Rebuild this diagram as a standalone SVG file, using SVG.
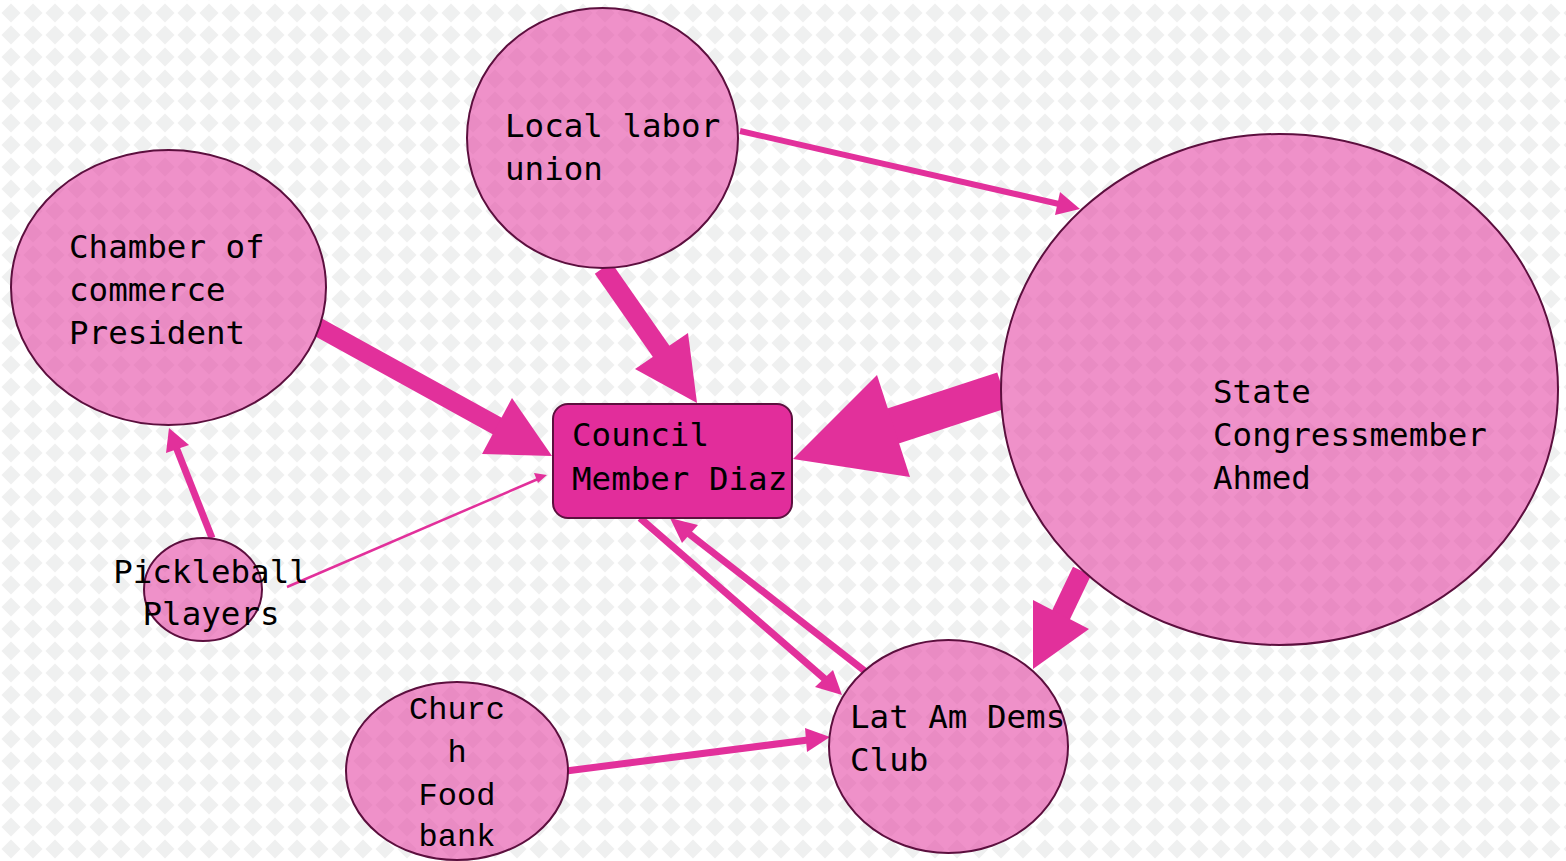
<svg xmlns="http://www.w3.org/2000/svg" width="1566" height="861" viewBox="0 0 1566 861">
<style>
.node{fill:url(#pinkPat);stroke:#5c0f3e;stroke-width:2}
.box{fill:#e22d9b;stroke:#5c0f3e;stroke-width:2}
.lbl{font-family:"DejaVu Sans Mono",monospace;font-size:32.5px;fill:#000}
.lbl2{font-family:"Liberation Mono","DejaVu Sans Mono",monospace;font-size:32px;fill:#000}
.sh{stroke:#e2309b;fill:none;stroke-linecap:butt}
.hd{fill:#e2309b;stroke:none}
</style>
<defs>
<pattern id="bgPat" patternUnits="userSpaceOnUse" x="0" y="2" width="22" height="22">
<rect width="22" height="22" fill="#ffffff"/>
<polygon points="11,1.5 20.5,11 11,20.5 1.5,11" fill="#eff0f0"/>
</pattern>
<pattern id="pinkPat" patternUnits="userSpaceOnUse" x="0" y="2" width="22" height="22">
<rect width="22" height="22" fill="#ef91c9"/>
<polygon points="11,1.5 20.5,11 11,20.5 1.5,11" fill="#e98bc3"/>
</pattern>
</defs>
<rect width="1566" height="861" fill="url(#bgPat)"/>
<g id="connectors">
<line class="sh" x1="740" y1="131" x2="1059" y2="204" stroke-width="6"/>
<polygon class="hd" points="1080,209 1060,192 1055,215"/>
<line class="sh" x1="603" y1="268" x2="663" y2="354" stroke-width="20"/>
<polygon class="hd" points="697,403 635,369 688,333"/>
<line class="sh" x1="316" y1="326" x2="499" y2="427" stroke-width="19"/>
<polygon class="hd" points="552,456 482,454 512,398"/>
<line class="sh" x1="1003" y1="390" x2="890" y2="427" stroke-width="37"/>
<polygon class="hd" points="793,459 877,375 910,477"/>
<line class="sh" x1="1082" y1="571" x2="1060" y2="617" stroke-width="20"/>
<polygon class="hd" points="1033,669 1033,600 1089,629"/>
<line class="sh" x1="640" y1="518" x2="826" y2="680" stroke-width="7"/>
<polygon class="hd" points="842,695 833,670 815,687"/>
<line class="sh" x1="866" y1="672" x2="688" y2="533" stroke-width="7"/>
<polygon class="hd" points="670,518 682,543 698,525"/>
<line class="sh" x1="566" y1="771" x2="808" y2="740" stroke-width="7"/>
<polygon class="hd" points="830,737 805,728 807,752"/>
<line class="sh" x1="212" y1="538" x2="176" y2="447" stroke-width="7"/>
<polygon class="hd" points="169,428 166,453 189,445"/>
<line class="sh" x1="287" y1="587" x2="538" y2="479" stroke-width="2.5"/>
<polygon class="hd" points="547,475 534,473 538,483"/>
</g>
<g id="local-labor-union">
<ellipse class="node" cx="602.5" cy="138" rx="135.5" ry="130"/>
<text class="lbl" x="505" y="137">Local labor</text>
<text class="lbl" x="505" y="180">union</text>
</g>
<g id="chamber-of-commerce">
<ellipse class="node" cx="168.5" cy="287.5" rx="157.5" ry="137.5"/>
<text class="lbl" x="69" y="258">Chamber of</text>
<text class="lbl" x="69" y="301">commerce</text>
<text class="lbl" x="69" y="344">President</text>
</g>
<g id="state-congressmember">
<ellipse class="node" cx="1279.5" cy="389.5" rx="278.5" ry="255.5"/>
<text class="lbl" x="1213" y="403">State</text>
<text class="lbl" x="1213" y="446">Congressmember</text>
<text class="lbl" x="1213" y="489">Ahmed</text>
</g>
<g id="council-member">
<rect class="box" x="553" y="404" width="239" height="114" rx="15"/>
<text class="lbl" x="572" y="446">Council</text>
<text class="lbl" x="572" y="490">Member Diaz</text>
</g>
<g id="pickleball-players">
<ellipse class="node" cx="203" cy="589.5" rx="59" ry="51.5"/>
<text class="lbl" x="211" y="583" text-anchor="middle">Pickleball</text>
<text class="lbl" x="211" y="625" text-anchor="middle">Players</text>
</g>
<g id="lat-am-dems">
<ellipse class="node" cx="948.5" cy="746.5" rx="119.5" ry="106.5"/>
<text class="lbl" x="850" y="728">Lat Am Dems</text>
<text class="lbl" x="850" y="771">Club</text>
</g>
<g id="church-food-bank">
<ellipse class="node" cx="457" cy="771" rx="111" ry="89"/>
<text class="lbl2" x="457" y="719" text-anchor="middle">Churc</text>
<text class="lbl2" x="457" y="762" text-anchor="middle">h</text>
<text class="lbl2" x="457" y="805" text-anchor="middle">Food</text>
<text class="lbl2" x="457" y="846" text-anchor="middle">bank</text>
</g>
</svg>
